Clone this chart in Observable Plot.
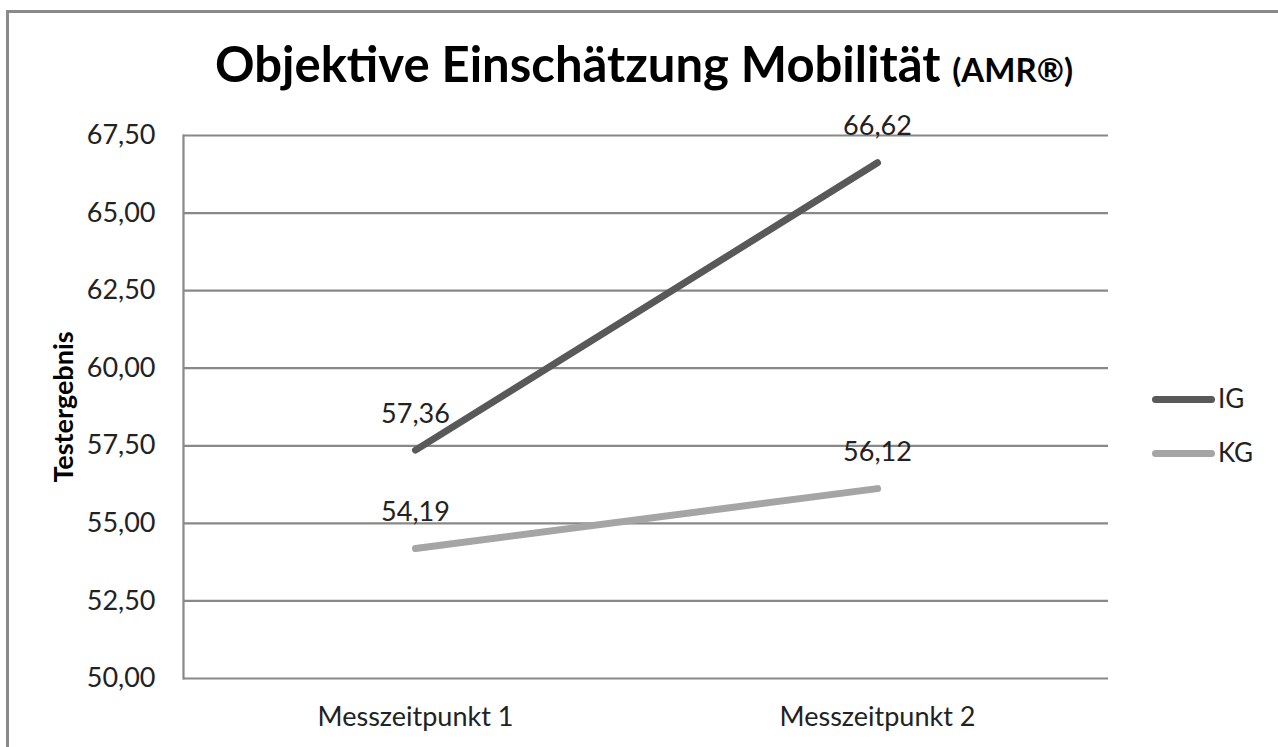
<!DOCTYPE html>
<html>
<head>
<meta charset="utf-8">
<script src="https://cdn.jsdelivr.net/npm/d3@7"></script>
<script src="https://cdn.jsdelivr.net/npm/@observablehq/plot@0.6"></script>
<style>
  html, body { margin: 0; padding: 0; background: #fff; overflow: hidden; }
  body { width: 1278px; height: 747px; position: relative; font-family: Lato, "Open Sans", sans-serif; }
  #border { position: absolute; left: 6px; top: 10px; width: 1400px; height: 900px; border: 3px solid #8a8a8a; box-sizing: border-box; }
  #title { position: relative; height: 110px; text-align: center; box-sizing: border-box; padding-top: 37px; padding-left: 10px;
           font-family: Lato, sans-serif; font-weight: bold; font-size: 49px; line-height: 52px; color: #000; white-space: nowrap; }
  #title .small { font-size: 33px; }
  #chart { position: relative; }
  #legend { position: absolute; left: 1152px; top: 380px; font-family: Lato, sans-serif; font-size: 26px; color: #222; }
  .item { position: absolute; left: 0; width: 120px; height: 40px; }
  .swatch { position: absolute; left: 0; width: 63px; height: 7px; border-radius: 4px; }
  .lab { position: absolute; left: 66px; }
  svg [aria-label="y-axis label"] text, svg [aria-label="y-axis label"] { font-size: 27px !important; font-weight: bold; fill: #000; }
</style>
</head>
<body>
<div id="border"></div>
<div id="title">Objektive Einschätzung Mobilität <span class="small">(AMR®)</span></div>
<div id="chart"></div>
<div id="legend"></div>
<script>
const categories = ["Messzeitpunkt 1", "Messzeitpunkt 2"];
const seriesNames = ["IG", "KG"];
const igValues = [57.36, 66.62];
const kgValues = [54.19, 56.12];
const yTicks = [50, 52.5, 55, 57.5, 60, 62.5, 65, 67.5];
const seriesColors = ["#595959", "#a5a5a5"];

const fmt = d => d.toFixed(2).replace(".", ",");

const rows = [];
categories.forEach((c, i) => {
  rows.push({cat: c, series: "IG", value: igValues[i]});
  rows.push({cat: c, series: "KG", value: kgValues[i]});
});

const chart = Plot.plot({
  width: 1278,
  height: 637,
  marginLeft: 183,
  marginRight: 170,
  marginTop: 25,
  marginBottom: 69,
  style: { fontFamily: "Lato, sans-serif", background: "transparent" },
  x: { type: "point", domain: categories, padding: 0.5, label: null },
  y: { domain: [50, 67.5], label: null },
  color: { domain: seriesNames, range: seriesColors },
  marks: [
    Plot.ruleY(yTicks, { stroke: "#888", strokeWidth: 2.2 }),
    Plot.frame({ anchor: "left", stroke: "#888", strokeWidth: 2.2 }),
    Plot.axisY({ ticks: yTicks, tickFormat: fmt, tickSize: 0, tickPadding: 28, fontSize: 27, color: "#222",
                 label: "Testergebnis", labelAnchor: "center", labelArrow: "none", labelOffset: 130 }),
    Plot.axisX({ tickSize: 0, tickPadding: 28, fontSize: 27, color: "#222", label: null }),
    Plot.line(rows, { x: "cat", y: "value", z: "series", stroke: "series", strokeWidth: 7, strokeLinecap: "round" }),
    Plot.text(rows, { x: "cat", y: "value", text: d => fmt(d.value), dy: -36, fontSize: 27, fill: "#222" })
  ]
});
document.getElementById("chart").appendChild(chart);

const legend = document.getElementById("legend");
seriesNames.forEach((s, i) => {
  const item = document.createElement("div");
  item.className = "item";
  item.style.top = (i * 54) + "px";
  item.innerHTML = `<div class="swatch" style="top:16px;background:${seriesColors[i]}"></div><div class="lab" style="top:2px">${s}</div>`;
  legend.appendChild(item);
});
</script>
</body>
</html>
